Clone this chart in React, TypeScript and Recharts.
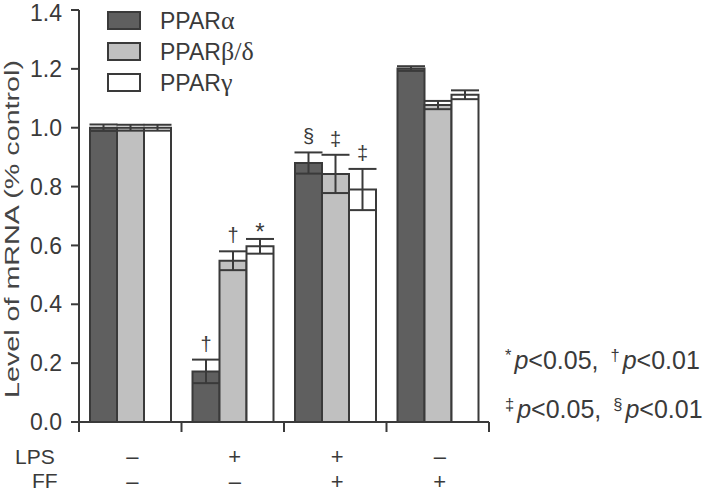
import { BarChart, Bar, XAxis, YAxis, ErrorBar, LabelList } from 'recharts'

const groups = ['control', 'LPS', 'LPS+FF', 'FF']
const lpsMarks = ['–', '+', '+', '–']
const ffMarks = ['–', '–', '+', '+']

const alpha = [1.0, 0.172, 0.88, 1.201]
const alphaErr = [0.011, 0.04, 0.036, 0.008]
const alphaSig = ['', '†', '§', '']

const betaDelta = [1.0, 0.548, 0.843, 1.077]
const betaDeltaErr = [0.01, 0.032, 0.065, 0.014]
const betaDeltaSig = ['', '†', '‡', '']

const gamma = [1.0, 0.597, 0.79, 1.112]
const gammaErr = [0.01, 0.025, 0.07, 0.015]
const gammaSig = ['', '*', '‡', '']

const yTicks = [0, 0.2, 0.4, 0.6, 0.8, 1.0, 1.2, 1.4]

const W = 705
const H = 493
const TOP = 10
const LEFT = 79
const RIGHT = 216
const X_AXIS_H = 71
const PX_PER_UNIT = (H - TOP - X_AXIS_H) / 1.4
const BAND = (W - LEFT - RIGHT) / groups.length

const INK = '#3a3a3a'
const FONT = '"Liberation Sans", Arial, sans-serif'

const series = [
  { key: 'a', name: 'PPAR', greek: 'α', fill: '#5f5f5f' },
  { key: 'b', name: 'PPAR', greek: 'β/δ', fill: '#c0c0c0' },
  { key: 'g', name: 'PPAR', greek: 'γ', fill: '#ffffff' },
]

const data = groups.map((g, i) => ({
  name: g,
  a: alpha[i], aErr: alphaErr[i], aSig: alphaSig[i],
  b: betaDelta[i], bErr: betaDeltaErr[i], bSig: betaDeltaSig[i],
  g: gamma[i], gErr: gammaErr[i], gSig: gammaSig[i],
}))

const sigLabel = (errs: number[]) => (props: any) => {
  const { x, y, width, value, index } = props
  if (!value) return null
  const errTop = Number(y) - errs[index] * PX_PER_UNIT
  const isStar = value === '*'
  return (
    <text
      x={Number(x) + Number(width) / 2}
      y={isStar ? errTop + 1 : errTop - 9}
      textAnchor="middle"
      fontSize={isStar ? 24 : 20}
      fontFamily={FONT}
      fill={INK}
    >
      {value}
    </text>
  )
}

// category tick: the LPS / FF rows, plus the band-edge tick marks
const CondTick = (props: any) => {
  const { x, y, payload } = props
  const i = payload.index
  const left = x - BAND / 2
  return (
    <g>
      <line x1={left} x2={left} y1={y} y2={y + 10} stroke={INK} strokeWidth={2} />
      {i === groups.length - 1 && (
        <line x1={left + BAND} x2={left + BAND} y1={y} y2={y + 10} stroke={INK} strokeWidth={2} />
      )}
      <g fontFamily={FONT} fontSize={22} fill={INK} textAnchor="middle">
        <text x={x + 2} y={y + 34} dominantBaseline="central">{lpsMarks[i]}</text>
        <text x={x + 2} y={y + 59} dominantBaseline="central">{ffMarks[i]}</text>
      </g>
    </g>
  )
}

const sup = { fontSize: '0.66em', verticalAlign: '0.5em' as const, marginRight: 3 }
const rowLabel = { position: 'absolute' as const, fontFamily: FONT, fontSize: 21, color: INK, lineHeight: '21px' }

export default function App() {
  return (
    <div style={{ position: 'relative', width: W, height: H, background: '#fff' }}>
      <style>{'body{margin:0}'}</style>
      <BarChart
        width={W}
        height={H}
        data={data}
        margin={{ top: TOP, right: RIGHT, left: 0, bottom: 0 }}
        barCategoryGap={11}
        barGap={0}
      >
        <XAxis
          dataKey="name"
          height={X_AXIS_H}
          axisLine={{ stroke: INK, strokeWidth: 2 }}
          tickLine={false}
          tickSize={0}
          tickMargin={0}
          interval={0}
          tick={<CondTick />}
        />
        <YAxis
          width={LEFT}
          domain={[0, 1.4]}
          ticks={yTicks}
          allowDataOverflow
          axisLine={{ stroke: INK, strokeWidth: 2 }}
          tickLine={{ stroke: INK, strokeWidth: 2 }}
          tickSize={8}
          tickMargin={9}
          tickFormatter={(v: number) => v.toFixed(1)}
          tick={{ fill: INK, fontSize: 23, fontFamily: FONT }}
          label={{
            content: () => (
              <text
                transform="translate(19,229) rotate(-90)"
                textAnchor="middle"
                fontSize={20}
                fontFamily={FONT}
                fill="#454545"
                textLength={338}
                lengthAdjust="spacingAndGlyphs"
              >
                Level of mRNA (% control)
              </text>
            ),
          }}
        />
        {series.map((s) => (
          <Bar
            key={s.key}
            dataKey={s.key}
            fill={s.fill}
            stroke={INK}
            strokeWidth={2}
            isAnimationActive={false}
          >
            <ErrorBar dataKey={`${s.key}Err`} width={14} stroke={INK} strokeWidth={2} direction="y" />
            <LabelList
              dataKey={`${s.key}Sig`}
              content={sigLabel(s.key === 'a' ? alphaErr : s.key === 'b' ? betaDeltaErr : gammaErr)}
            />
          </Bar>
        ))}
      </BarChart>

      <div style={{ position: 'absolute', left: 107, top: 5, fontFamily: FONT, color: INK }}>
        {series.map((s) => (
          <div key={s.key} style={{ display: 'flex', alignItems: 'center', height: 31 }}>
            <span
              style={{
                width: 30,
                height: 15,
                background: s.fill,
                border: `2px solid ${INK}`,
                display: 'inline-block',
                marginRight: 19,
              }}
            />
            <span style={{ fontSize: 23 }}>
              {s.name}
              <span style={{ fontFamily: '"Liberation Serif", serif', fontSize: 26 }}>{s.greek}</span>
            </span>
          </div>
        ))}
      </div>

      <div style={{ ...rowLabel, left: 15, top: 446 }}>LPS</div>
      <div style={{ ...rowLabel, left: 32, top: 470 }}>FF</div>

      <div
        style={{
          position: 'absolute',
          left: 505,
          top: 333,
          fontFamily: FONT,
          fontSize: 25,
          color: INK,
          lineHeight: '44px',
          whiteSpace: 'nowrap',
        }}
      >
        <div>
          <span style={sup}>*</span><i>p</i>&lt;0.05, <span style={{ ...sup, marginLeft: 5 }}>†</span><i>p</i>&lt;0.01
        </div>
        <div>
          <span style={sup}>‡</span><i>p</i>&lt;0.05, <span style={{ ...sup, marginLeft: 5 }}>§</span><i>p</i>&lt;0.01
        </div>
      </div>
    </div>
  )
}
